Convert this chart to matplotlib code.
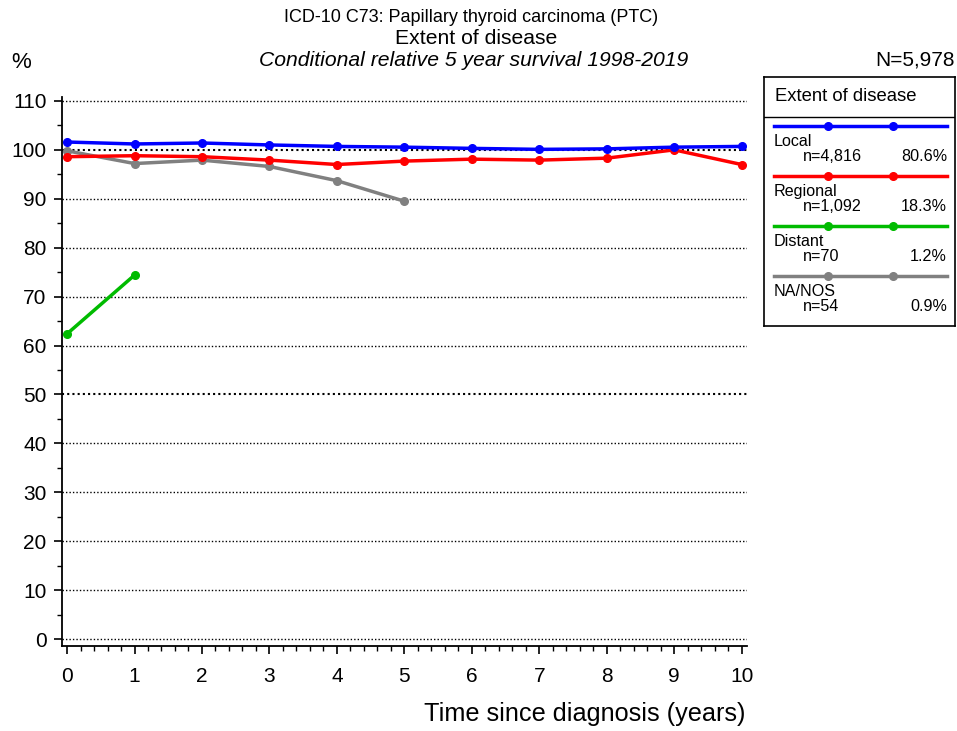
import matplotlib
matplotlib.use('Agg')
import matplotlib.pyplot as plt
from matplotlib.ticker import MultipleLocator

plt.rcParams['font.family'] = ['Liberation Sans', 'DejaVu Sans']

# conditional relative survival (%) by years since diagnosis
years = list(range(11))
local = [101.6, 101.2, 101.4, 101.0, 100.7, 100.55, 100.3, 100.1, 100.2, 100.55, 100.7]
regional = [98.6, 98.8, 98.6, 97.9, 97.0, 97.7, 98.1, 97.9, 98.3, 100.0, 97.0]
distant = [62.4, 74.4]
na_nos = [99.8, 97.2, 97.9, 96.6, 93.7, 89.5]

groups = ['Local', 'Regional', 'Distant', 'NA/NOS']
counts = ['n=4,816', 'n=1,092', 'n=70', 'n=54']
shares = ['80.6%', '18.3%', '1.2%', '0.9%']
colors = ['#0000ff', '#ff0000', '#00bb00', '#808080']
series = [local, regional, distant, na_nos]

W, H = 957, 731
fig = plt.figure(figsize=(W / 100, H / 100), dpi=100)

def box(x0, y0, x1, y1):
    # pixel box -> figure fraction
    return [x0 / W, 1 - y1 / H, (x1 - x0) / W, (y1 - y0) / H]

ax = fig.add_axes(box(62, 97, 747, 646))
ax.set_xlim(-0.075, 10.08)
ax.set_ylim(-1.4, 110.8)

for yv in range(0, 111, 10):
    lw = 1.5 if yv in (50, 100) else 1.0
    ax.axhline(yv, color='black', lw=lw, ls=(0, (1, 1.5)), zorder=1)

# gray first, blue on top
for vals, c in zip(series[::-1], colors[::-1]):
    ax.plot(years[:len(vals)], vals, color=c, lw=2.5, marker='o', ms=5.5, zorder=3)

ax.spines['top'].set_visible(False)
ax.spines['right'].set_visible(False)
ax.spines['left'].set_linewidth(1.3)
ax.spines['bottom'].set_linewidth(1.3)
ax.xaxis.set_major_locator(MultipleLocator(1))
ax.xaxis.set_minor_locator(MultipleLocator(0.2))
ax.yaxis.set_major_locator(MultipleLocator(10))
ax.yaxis.set_minor_locator(MultipleLocator(5))
ax.tick_params(which='major', length=6, width=1.2, labelsize=15, pad=5)
ax.tick_params(which='minor', length=3.5, width=1.0)
ax.tick_params(axis='x', pad=9)

fig.text(471 / W, 1 - 17 / H, 'ICD-10 C73: Papillary thyroid carcinoma (PTC)',
         ha='center', va='center', fontsize=13)
fig.text(476 / W, 1 - 38 / H, 'Extent of disease', ha='center', va='center', fontsize=15.2)
fig.text(474 / W, 1 - 60 / H, 'Conditional relative 5 year survival 1998-2019',
         ha='center', va='center', fontsize=15.2, style='italic')
fig.text(11 / W, 1 - 63 / H, '%', ha='left', va='center', fontsize=16)
fig.text(955 / W, 1 - 60 / H, 'N=5,978', ha='right', va='center', fontsize=15)
fig.text(746 / W, 1 - 714 / H, 'Time since diagnosis (years)', ha='right', va='center', fontsize=18.2)

# legend panel drawn in pixel units
lg = fig.add_axes(box(764, 77, 955, 326))
lg.set_xlim(764, 955)
lg.set_ylim(326, 77)
lg.set_xticks([])
lg.set_yticks([])
for s in lg.spines.values():
    s.set_linewidth(1.2)
lg.axhline(117, color='black', lw=1.0)
lg.text(775, 96, 'Extent of disease', ha='left', va='center', fontsize=13.3)
for i, (g, n, p, c) in enumerate(zip(groups, counts, shares, colors)):
    y = 126 + 50 * i
    lg.plot([774, 947], [y, y], color=c, lw=2.5)
    lg.plot([828, 893], [y, y], color=c, lw=0, marker='o', ms=5.5)
    lg.text(774, y + 15, g, ha='left', va='center', fontsize=11.6)
    lg.text(803, y + 30, n, ha='left', va='center', fontsize=11.6)
    lg.text(947, y + 30, p, ha='right', va='center', fontsize=11.6)

fig.savefig('out.png', dpi=100)
